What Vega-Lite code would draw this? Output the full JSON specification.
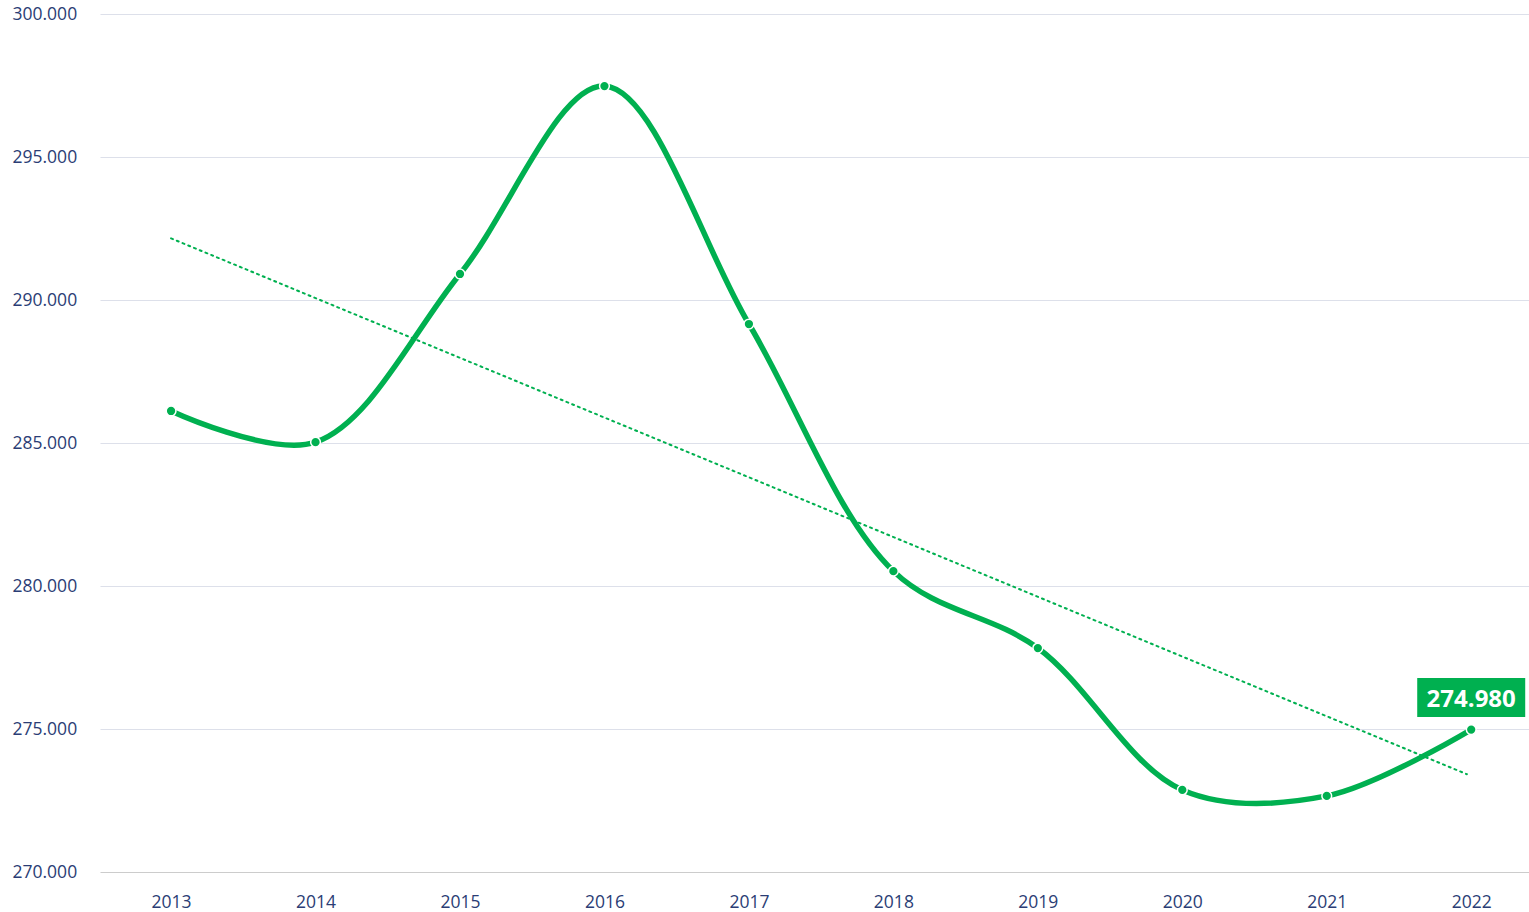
{
  "$schema": "https://vega.github.io/schema/vega-lite/v6.json",
  "width": 1429,
  "height": 858,
  "autosize": {"type": "none"},
  "padding": {"left": 100, "top": 14, "right": 0, "bottom": 40},
  "background": "white",
  "config": {
    "view": {"stroke": null},
    "locale": {"number": {"decimal": ",", "thousands": ".", "grouping": [3], "currency": ["", " €"]}},
    "font": "Open Sans"
  },
  "data": {
    "values": [
      {"year": 2013, "value": 286120},
      {"year": 2014, "value": 285030},
      {"year": 2015, "value": 290910},
      {"year": 2016, "value": 297480},
      {"year": 2017, "value": 289160},
      {"year": 2018, "value": 280520},
      {"year": 2019, "value": 277830},
      {"year": 2020, "value": 272870},
      {"year": 2021, "value": 272660},
      {"year": 2022, "value": 274980}
    ]
  },
  "encoding": {
    "x": {
      "field": "year",
      "type": "quantitative",
      "scale": {"domain": [2012.508, 2022.4], "nice": false, "zero": false},
      "axis": {
        "title": null,
        "values": [2013, 2014, 2015, 2016, 2017, 2018, 2019, 2020, 2021, 2022],
        "format": "d",
        "grid": false,
        "domain": false,
        "ticks": false,
        "labelPadding": 21,
        "labelFontSize": 17.5,
        "labelColor": "#2B3D75",
        "labelFlush": false
      }
    },
    "y": {
      "field": "value",
      "type": "quantitative",
      "scale": {"domain": [270000, 300000], "nice": false, "zero": false},
      "axis": {
        "title": null,
        "values": [270000, 275000, 280000, 285000, 290000, 295000, 300000],
        "format": ",d",
        "domain": false,
        "ticks": false,
        "gridColor": {"condition": {"test": "datum.value === 270000", "value": "#CCCCCC"}, "value": "#DDE0EA"},
        "gridWidth": 1.2,
        "labelAlign": "left",
        "labelPadding": 88,
        "labelFontSize": 17.5,
        "labelColor": "#2B3D75"
      }
    }
  },
  "layer": [
    {
      "transform": [{"regression": "value", "on": "year", "extent": [2013, 2021.97]}],
      "mark": {"type": "line", "color": "#00B050", "strokeWidth": 2, "strokeDash": [2, 4.2], "strokeCap": "round"}
    },
    {
      "mark": {"type": "line", "color": "#00B050", "strokeWidth": 5.5, "interpolate": "catmull-rom", "strokeCap": "round"}
    },
    {
      "mark": {"type": "point", "filled": true, "color": "#00B050", "size": 95, "stroke": "white", "strokeWidth": 1.5, "opacity": 1}
    },
    {
      "transform": [{"filter": "datum.year === 2022"}],
      "mark": {"type": "rect", "color": "#00B050", "width": 108, "height": 39, "yOffset": -32}
    },
    {
      "transform": [{"filter": "datum.year === 2022"}],
      "mark": {"type": "text", "color": "white", "fontSize": 24, "fontWeight": "bold", "baseline": "middle", "align": "center", "yOffset": -30}
    ,
      "encoding": {"text": {"field": "value", "type": "quantitative", "format": ",d"}}
    }
  ]
}
